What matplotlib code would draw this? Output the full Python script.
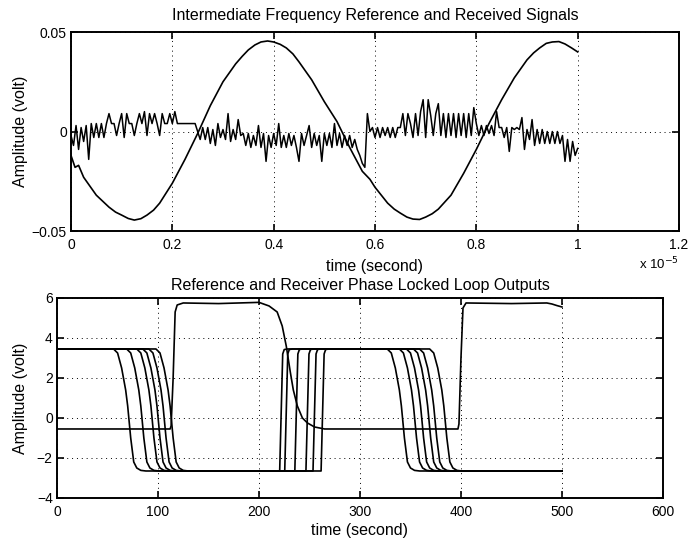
import numpy as np
import matplotlib
matplotlib.use("Agg")
import matplotlib.pyplot as plt

plt.rcParams['font.family'] = ['Liberation Sans', 'DejaVu Sans']

# ---- top panel: IF reference (sine) and received signal, time in units of 1e-5 s
ref_t = [0.000, 0.008, 0.015, 0.025, 0.050, 0.075, 0.088, 0.100, 0.113, 0.125, 0.138,
         0.150, 0.163, 0.175, 0.200, 0.225, 0.250, 0.275, 0.300, 0.325, 0.338, 0.350,
         0.363, 0.375, 0.388, 0.400, 0.413, 0.425, 0.438, 0.450, 0.475, 0.500, 0.525,
         0.550, 0.575, 0.590, 0.600, 0.625, 0.638, 0.650, 0.663, 0.675, 0.688, 0.700,
         0.713, 0.725, 0.750, 0.775, 0.800, 0.825, 0.850, 0.875, 0.900, 0.913, 0.925,
         0.938, 0.950, 0.963, 0.975, 0.988, 1.000]
ref_v = [-0.012, -0.018, -0.017, -0.023, -0.032, -0.038, -0.0405, -0.042, -0.0437, -0.0445, -0.0438,
         -0.042, -0.0395, -0.036, -0.026, -0.014, -0.001, 0.013, 0.025, 0.034, 0.0378, 0.041,
         0.0435, 0.045, 0.0455, 0.045, 0.0438, 0.042, 0.039, 0.035, 0.026, 0.015, 0.005,
         -0.008, -0.020, -0.024, -0.028, -0.036, -0.039, -0.041, -0.043, -0.044, -0.0442, -0.043,
         -0.0413, -0.039, -0.032, -0.021, -0.009, 0.004, 0.016, 0.027, 0.036, 0.0395, 0.042,
         0.0443, 0.045, 0.0452, 0.044, 0.042, 0.040]

rx_dt = 0.005
rx_v = [-0.002, -0.007, 0.003, -0.009, 0.002, -0.005, 0.003, -0.014, 0.004, -0.003,
        0.004, -0.003, 0.004, -0.003, 0.004, 0.009, 0.004, 0.004, -0.002, 0.004,
        0.009, -0.003, 0.009, 0.004, 0.004, -0.002, 0.004, 0.009, 0.004, 0.010,
        -0.002, 0.009, 0.004, 0.009, 0.004, -0.002, 0.009, 0.004, 0.004, 0.009,
        0.004, 0.010, 0.004, 0.004, 0.004, 0.004, 0.004, 0.004, 0.004, 0.004,
        0.000, -0.004, 0.002, -0.004, 0.002, -0.006, 0.001, -0.007, 0.004, -0.003,
        0.001, -0.004, 0.009, -0.005, 0.001, -0.004, 0.006, -0.002, -0.001, -0.007,
        -0.001, -0.008, -0.002, -0.007, 0.003, -0.008, -0.001, -0.015, -0.002, -0.008,
        -0.001, -0.007, 0.004, -0.008, -0.002, -0.008, -0.001, -0.007, -0.002, -0.008,
        -0.015, -0.001, -0.007, -0.002, 0.003, -0.008, -0.001, -0.007, -0.002, -0.015,
        -0.001, -0.007, -0.001, -0.008, 0.004, -0.007, -0.001, -0.008, -0.002, -0.007,
        -0.002, -0.008, -0.004, -0.009, -0.012, -0.016, -0.018, 0.009, 0.000, 0.002,
        -0.003, 0.002, -0.003, 0.002, -0.002, 0.002, -0.003, 0.002, -0.003, 0.002,
        0.002, 0.009, -0.002, 0.009, 0.004, -0.003, 0.009, -0.002, 0.010, 0.016,
        -0.003, 0.016, 0.008, -0.002, 0.009, 0.014, -0.002, 0.009, -0.003, 0.009,
        -0.002, 0.009, -0.003, 0.009, -0.002, 0.009, -0.003, 0.009, -0.002, 0.012,
        0.004, -0.002, 0.003, -0.002, 0.003, -0.001, 0.003, -0.002, 0.010, 0.002,
        0.002, -0.003, 0.002, -0.010, 0.002, 0.001, 0.002, 0.001, 0.007, -0.009,
        0.001, -0.004, 0.006, -0.007, 0.001, -0.006, 0.001, -0.006, 0.000, -0.006,
        0.000, -0.006, 0.000, -0.006, -0.002, -0.015, -0.004, -0.015, -0.005, -0.012,
        -0.0085]
rx_t = np.arange(len(rx_v)) * rx_dt

# ---- bottom panel: PLL outputs, time in seconds
pll_ref_t = [0, 112, 113, 115, 117, 119, 125, 160, 200, 210, 218, 223, 227, 231, 234,
             238, 243, 248, 255, 265, 397, 398, 400, 402, 405, 450, 485, 490, 495, 500]
pll_ref_v = [-0.55, -0.55, -0.4, 2.0, 5.3, 5.65, 5.75, 5.72, 5.78, 5.6, 5.3, 4.6, 3.6, 2.3, 1.4,
             0.6, 0.0, -0.25, -0.45, -0.55, -0.55, -0.3, 3.0, 5.5, 5.75, 5.72, 5.75, 5.7, 5.62, 5.55]

# receiver PLL outputs share the same level sequence
rcv_v = [3.45, 3.45, 3.25, 2.5, 1.4, 0.6, -1.0, -2.2, -2.5, -2.62, -2.65,
         -2.65, 0.3, 3.2, 3.42, 3.45,
         3.45, 3.25, 2.5, 1.4, 0.6, -1.0, -2.2, -2.5, -2.62, -2.65, -2.65]
rcv_t = [
    [0, 56, 60, 64, 68, 70, 73, 76, 79, 83, 88, 220.5, 222, 223.5, 225, 228,
     327, 331, 335, 339, 341, 344, 347, 350, 354, 359, 500],
    [0, 69, 73, 77, 81, 83, 86, 89, 92, 96, 101, 225.5, 227, 228.5, 230, 233,
     339, 343, 347, 351, 353, 356, 359, 362, 366, 371, 500],
    [0, 79, 83, 87, 91, 93, 96, 99, 102, 106, 111, 235.5, 237, 238.5, 240, 243,
     346, 350, 354, 358, 360, 363, 366, 369, 373, 378, 500],
    [0, 85, 89, 93, 97, 99, 102, 105, 108, 112, 117, 246.5, 248, 249.5, 251, 254,
     353, 357, 361, 365, 367, 370, 373, 376, 380, 385, 500],
    [0, 91, 95, 99, 103, 105, 108, 111, 114, 118, 123, 253.5, 255, 256.5, 258, 261,
     359, 363, 367, 371, 373, 376, 379, 382, 386, 391, 500],
    [0, 98, 102, 106, 110, 112, 115, 118, 121, 125, 130, 261.5, 263, 264.5, 266, 269,
     369, 373, 377, 381, 383, 386, 389, 392, 396, 401, 500],
]


def style_axes(ax):
    for sp in ax.spines.values():
        sp.set_linewidth(1.4)
    ax.tick_params(direction='in', top=True, right=True, length=5, width=1.2,
                   labelsize=10)
    ax.tick_params(axis='x', pad=5)
    ax.tick_params(axis='y', pad=3)
    ax.grid(True, color='k', linestyle=(0, (1, 4)), linewidth=0.7)


fig = plt.figure(figsize=(7, 5.4), dpi=100)

ax1 = fig.add_axes([0.1014, 0.5722, 0.8686, 0.3685])
ax1.plot(ref_t, ref_v, color='k', lw=1.2)
ax1.plot(rx_t, rx_v, color='k', lw=1.1)
ax1.set_xlim(0, 1.2)
ax1.set_ylim(-0.05, 0.05)
ax1.set_xticks([0, 0.2, 0.4, 0.6, 0.8, 1.0, 1.2])
ax1.set_xticklabels(['0', '0.2', '0.4', '0.6', '0.8', '1', '1.2'])
ax1.set_yticks([-0.05, 0, 0.05])
ax1.set_yticklabels(['\u22120.05', '0', '0.05'])
style_axes(ax1)
ax1.set_title('Intermediate Frequency Reference and Received Signals', fontsize=11.5, pad=9)
ax1.set_xlabel('time (second)', fontsize=11.5, labelpad=5)
ax1.set_ylabel('Amplitude (volt)', fontsize=11.5, labelpad=3)
ax1.text(1.0, -0.165, 'x 10$^{-5}$', transform=ax1.transAxes, fontsize=9.5,
         ha='right', va='center')

ax2 = fig.add_axes([0.0814, 0.0778, 0.8657, 0.3704])
ax2.plot(pll_ref_t, pll_ref_v, color='k', lw=1.2)
for tt in rcv_t:
    ax2.plot(tt, rcv_v, color='k', lw=1.2)
ax2.set_xlim(0, 600)
ax2.set_ylim(-4, 6)
ax2.set_xticks(range(0, 601, 100))
ax2.set_yticks(range(-4, 7, 2))
ax2.set_yticklabels(['\u22124', '\u22122', '0', '2', '4', '6'])
style_axes(ax2)
ax2.set_title('Reference and Receiver Phase Locked Loop Outputs', fontsize=11.5, pad=6)
ax2.set_xlabel('time (second)', fontsize=11.5, labelpad=3)
ax2.set_ylabel('Amplitude (volt)', fontsize=11.5, labelpad=6)

fig.savefig('out.png', dpi=100)
